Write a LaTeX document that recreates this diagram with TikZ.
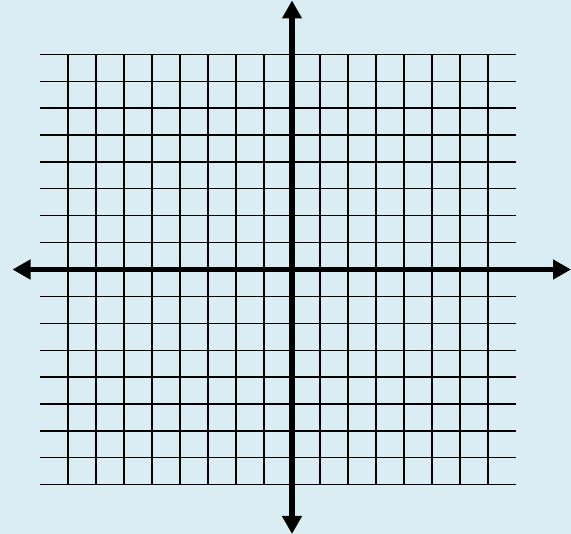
\documentclass[tikz,border=0pt]{standalone}
\usetikzlibrary{arrows.meta}
\definecolor{bg}{HTML}{DAEDF3}
\begin{document}
\begin{tikzpicture}[x=1pt,y=-1pt,
  gridline/.style={line width=1.3pt,black},
  axisline/.style={line width=5.5pt,black,{Triangle[length=18pt,width=19pt]}-{Triangle[length=18pt,width=19pt]}}]
\fill[bg] (0,0) rectangle (571,534);
\useasboundingbox (0,0) rectangle (571,534);
\foreach \k in {0,...,16} {
  \draw[gridline] (40,{54.3+\k*26.9}) -- (516,{54.3+\k*26.9});
}
\foreach \j in {0,...,15} {
  \draw[gridline] ({68+\j*28},54.3) -- ({68+\j*28},484.7);
}
\coordinate (top) at (292,0.5);
\coordinate (bottom) at (292,534);
\coordinate (left) at (12.5,269.5);
\coordinate (right) at (571,269.5);
\draw[axisline] (top) -- (bottom);
\draw[axisline] (left) -- (right);
\end{tikzpicture}
\end{document}
